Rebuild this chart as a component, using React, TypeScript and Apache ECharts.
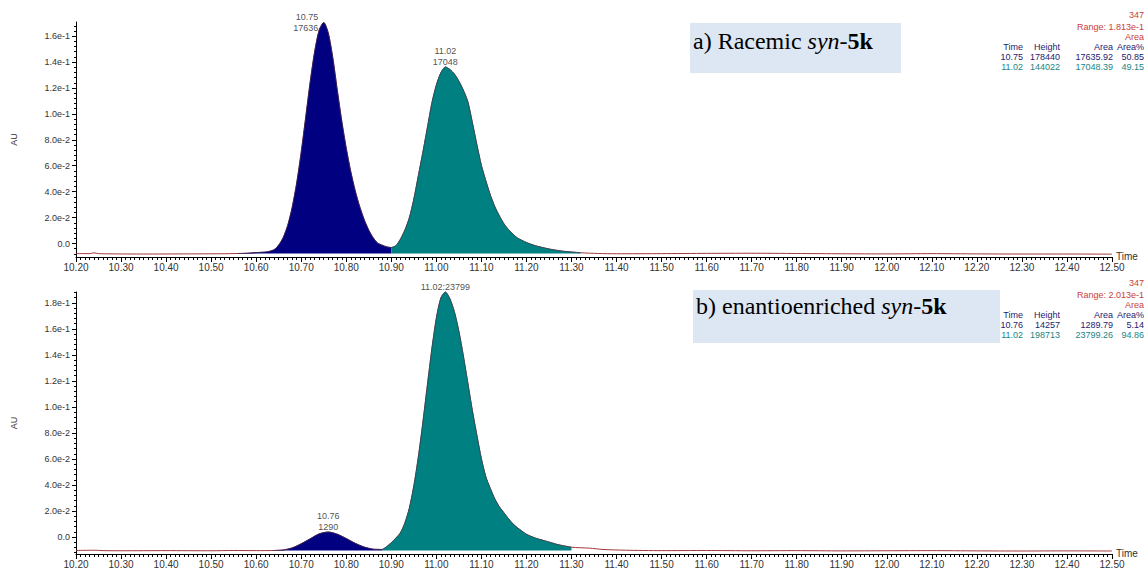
import React, { useEffect, useRef } from "react";
import * as echarts from "echarts";

// ---------------- data ----------------
const topTime = [10.2, 10.23, 10.24, 10.25, 10.28, 10.35, 10.45, 10.52, 10.56, 10.58, 10.6, 10.62, 10.63, 10.64, 10.65, 10.66, 10.67, 10.68, 10.69, 10.7, 10.71, 10.72, 10.73, 10.74, 10.75, 10.76, 10.77, 10.78, 10.79, 10.8, 10.81, 10.82, 10.83, 10.84, 10.85, 10.86, 10.87, 10.88, 10.89, 10.9, 10.91, 10.92, 10.93, 10.94, 10.95, 10.96, 10.97, 10.98, 10.99, 11.0, 11.01, 11.02, 11.03, 11.04, 11.05, 11.06, 11.07, 11.08, 11.09, 11.1, 11.11, 11.12, 11.13, 11.14, 11.15, 11.16, 11.17, 11.18, 11.2, 11.22, 11.25, 11.28, 11.32, 11.36, 11.4, 11.5, 11.6, 11.7, 11.8, 11.9, 12.0, 12.1, 12.2, 12.3, 12.4, 12.5];
const topSignal = [-0.0077, -0.0078, -0.0072, -0.0078, -0.008, -0.0081, -0.008, -0.0079, -0.0077, -0.0075, -0.007, -0.0066, -0.006, -0.0047, -0.0012, 0.0046, 0.014, 0.028, 0.0468, 0.0705, 0.0975, 0.1248, 0.1484, 0.1648, 0.1705, 0.1625, 0.1435, 0.1185, 0.0945, 0.0735, 0.0555, 0.0405, 0.0283, 0.0183, 0.0103, 0.0043, 0.0003, -0.0013, -0.0026, -0.0031, -0.0018, 0.0032, 0.0103, 0.0198, 0.0343, 0.0523, 0.0703, 0.0893, 0.1083, 0.1223, 0.1318, 0.1362, 0.1343, 0.1308, 0.1253, 0.1183, 0.1093, 0.0933, 0.0763, 0.0603, 0.0483, 0.0373, 0.0283, 0.0213, 0.0153, 0.0108, 0.0073, 0.0043, 0.0008, -0.0017, -0.0042, -0.0059, -0.0071, -0.0077, -0.0079, -0.0078, -0.0076, -0.0075, -0.0077, -0.0079, -0.008, -0.0078, -0.008, -0.0081, -0.0081, -0.0082];

const bottomTime = [10.2, 10.24, 10.26, 10.3, 10.4, 10.5, 10.55, 10.6, 10.64, 10.66, 10.68, 10.7, 10.72, 10.74, 10.76, 10.78, 10.8, 10.82, 10.84, 10.86, 10.88, 10.89, 10.9, 10.91, 10.92, 10.93, 10.94, 10.95, 10.96, 10.97, 10.98, 10.99, 11.0, 11.01, 11.02, 11.03, 11.04, 11.05, 11.06, 11.07, 11.08, 11.09, 11.1, 11.11, 11.12, 11.13, 11.14, 11.15, 11.16, 11.17, 11.18, 11.2, 11.22, 11.24, 11.27, 11.3, 11.34, 11.37, 11.42, 11.5, 11.6, 11.7, 11.8, 11.9, 12.0, 12.1, 12.2, 12.3, 12.4, 12.5];
const bottomSignal = [-0.0103, -0.0101, -0.0104, -0.0105, -0.0104, -0.0105, -0.0103, -0.0104, -0.0103, -0.0099, -0.0083, -0.0051, -0.0013, 0.0025, 0.0039, 0.0022, -0.0011, -0.0048, -0.0077, -0.0093, -0.0095, -0.0073, -0.0043, -0.0008, 0.0032, 0.0107, 0.0222, 0.0393, 0.0615, 0.0879, 0.1165, 0.1445, 0.1682, 0.1837, 0.1883, 0.1832, 0.1732, 0.1582, 0.1392, 0.1182, 0.0972, 0.0782, 0.0602, 0.0462, 0.0372, 0.0292, 0.0232, 0.0187, 0.0142, 0.0102, 0.0072, 0.0022, -0.0008, -0.0028, -0.0058, -0.0078, -0.0085, -0.0095, -0.0101, -0.0104, -0.0103, -0.0105, -0.0104, -0.0106, -0.0105, -0.0104, -0.0106, -0.0107, -0.0106, -0.0107];

const topBaseline = -0.0077;
const bottomBaseline = -0.0104;
const topNavyWindow = [10.56, 10.9];
const topTealWindow = [10.9, 11.32];
const bottomNavyWindow = [10.64, 10.88];
const bottomTealWindow = [10.88, 11.3];

const topPeakTimes = [10.75, 11.02];
const topPeakValues = [0.1705, 0.1362];
const topPeakTexts = ["10.75\n17636", "11.02\n17048"];
const bottomPeakTimes = [10.76, 11.02];
const bottomPeakValues = [0.0039, 0.1883];
const bottomPeakTexts = ["10.76\n1290", "11.02:23799"];

const topYTicks = [0, 0.02, 0.04, 0.06, 0.08, 0.1, 0.12, 0.14, 0.16];
const topYLabels = ["0.0", "2.0e-2", "4.0e-2", "6.0e-2", "8.0e-2", "1.0e-1", "1.2e-1", "1.4e-1", "1.6e-1"];
const bottomYTicks = [0, 0.02, 0.04, 0.06, 0.08, 0.1, 0.12, 0.14, 0.16, 0.18];
const bottomYLabels = ["0.0", "2.0e-2", "4.0e-2", "6.0e-2", "8.0e-2", "1.0e-1", "1.2e-1", "1.4e-1", "1.6e-1", "1.8e-1"];

const topRange = [-0.0104, 0.1709];
const bottomRange = [-0.013, 0.1883];

const tableHeader = ["Time", "Height", "Area", "Area%"];
const topRows = [
  ["10.75", "178440", "17635.92", "50.85"],
  ["11.02", "144022", "17048.39", "49.15"],
];
const bottomRows = [
  ["10.76", "14257", "1289.79", "5.14"],
  ["11.02", "198713", "23799.26", "94.86"],
];
const topRangeText = "Range: 1.813e-1";
const bottomRangeText = "Range: 2.013e-1";

// ---------------- styling ----------------
const NAVY = "#000080";
const TEAL = "#008080";
const TRACE = "#a3383c";
const RED_TXT = "#c8403c";
const NAVY_TXT = "#1c1c70";
const TEAL_TXT = "#1a8585";
const SANS = "Liberation Sans";

const zip = (t: number[], v: number[]) => t.map((x, i) => [x, v[i]]);
const windowed = (t: number[], v: number[], w: number[]) =>
  zip(t, v).filter((p) => p[0] >= w[0] - 1e-9 && p[0] <= w[1] + 1e-9);

function minorValues(range: number[]) {
  const out: number[] = [];
  for (let k = -5; k <= 60; k++) {
    if (k % 5 === 0) continue;
    const v = +(k * 0.004).toFixed(4);
    if (v >= range[0] && v <= range[1]) out.push(v);
  }
  return out;
}

function labelFor(ticks: number[], labels: string[]) {
  return (v: number) => {
    const i = ticks.findIndex((t) => Math.abs(t - v) < 1e-6);
    return i >= 0 ? labels[i] : "";
  };
}

function tableElements(yOff: number, rangeText: string, rows: string[][]) {
  const cols = [1023, 1060, 1113, 1144];
  const els: any[] = [];
  const txt = (x: number, y: number, text: string, fill: string) => ({
    type: "text",
    x,
    y: y + yOff,
    silent: true,
    style: {
      text,
      fill,
      fontSize: 9,
      fontFamily: SANS,
      align: "right",
      verticalAlign: "middle",
      textAlign: "right",
      textVerticalAlign: "middle",
    },
  });
  els.push(txt(1144, 15, "347", RED_TXT));
  els.push(txt(1144, 27, rangeText, RED_TXT));
  els.push(txt(1144, 37, "Area", RED_TXT));
  tableHeader.forEach((h, i) => els.push(txt(cols[i], 47, h, NAVY_TXT)));
  rows.forEach((r, ri) =>
    r.forEach((c, ci) => els.push(txt(cols[ci], 57 + ri * 10, c, ri === 0 ? NAVY_TXT : TEAL_TXT)))
  );
  return els;
}

function boxElements(x: number, y: number, w: number, h: number, tx: number, ty: number, lead: string) {
  const fs = 24;
  return [
    { type: "rect", shape: { x, y, width: w, height: h }, style: { fill: "#dde7f3" }, silent: true },
    {
      type: "text",
      x: tx,
      y: ty,
      silent: true,
      style: {
        text: `{r|${lead}}{i|syn}{r|-}{b|5k}`,
        fill: "#000",
        fontSize: fs,
        fontFamily: "Liberation Serif",
        verticalAlign: "middle",
        textVerticalAlign: "middle",
        rich: {
          r: { fontSize: fs, fontFamily: "Liberation Serif", fill: "#000" },
          i: { fontSize: fs, fontFamily: "Liberation Serif", fontStyle: "italic", fill: "#000" },
          b: { fontSize: fs, fontFamily: "Liberation Serif", fontWeight: "bold", fill: "#000" },
        },
      },
    },
  ];
}

function xAxisFor(gridIndex: number) {
  return {
    type: "value",
    gridIndex,
    min: 10.2,
    max: 12.5,
    interval: 0.1,
    name: "Time",
    nameLocation: "end",
    nameGap: 4,
    nameTextStyle: { fontSize: 10, color: "#333", fontFamily: SANS, verticalAlign: "bottom", padding: [0, 0, -4, 0] },
    axisLine: { show: true, onZero: false, lineStyle: { color: "#000", width: 1 } },
    axisTick: { show: true, length: 5, lineStyle: { color: "#000" } },
    minorTick: { show: true, splitNumber: 10, length: 3, lineStyle: { color: "#000" } },
    splitLine: { show: false },
    minorSplitLine: { show: false },
    axisLabel: {
      fontSize: 10,
      color: "#333",
      fontFamily: SANS,
      margin: 5,
      formatter: (v: number) => v.toFixed(2),
    },
  };
}

function yAxesFor(gridIndex: number, range: number[], ticks: number[], labels: string[]) {
  return [
    {
      type: "value",
      gridIndex,
      min: range[0],
      max: range[1],
      name: "AU",
      nameLocation: "middle",
      nameGap: 58,
      nameTextStyle: { fontSize: 9, color: "#333", fontFamily: SANS },
      axisLine: { show: true, onZero: false, lineStyle: { color: "#000", width: 1 } },
      axisTick: { show: true, length: 4, customValues: ticks, lineStyle: { color: "#000" } },
      splitLine: { show: false },
      axisLabel: {
        fontSize: 9,
        color: "#333",
        fontFamily: SANS,
        margin: 6,
        customValues: ticks,
        formatter: labelFor(ticks, labels),
      },
    },
    {
      type: "value",
      gridIndex,
      position: "left",
      min: range[0],
      max: range[1],
      axisLine: { show: false, onZero: false },
      axisTick: { show: true, length: 2, customValues: minorValues(range), lineStyle: { color: "#000" } },
      splitLine: { show: false },
      axisLabel: { show: false },
    },
  ];
}

function seriesFor(
  xi: number,
  yi: number,
  t: number[],
  v: number[],
  base: number,
  navyW: number[],
  tealW: number[],
  pt: number[],
  pv: number[],
  ptext: string[],
  firstPos: string
) {
  const common = {
    type: "line",
    xAxisIndex: xi,
    yAxisIndex: yi,
    showSymbol: false,
    smooth: 0.25,
    clip: false,
    silent: true,
  };
  return [
    { ...common, data: zip(t, v), lineStyle: { color: TRACE, width: 1 }, z: 2 },
    {
      ...common,
      data: windowed(t, v, navyW),
      lineStyle: { color: "#2a1f5a", width: 0.8 },
      areaStyle: { color: NAVY, opacity: 1, origin: base },
      z: 3,
    },
    {
      ...common,
      data: windowed(t, v, tealW),
      lineStyle: { color: "#1d4a58", width: 0.8 },
      areaStyle: { color: TEAL, opacity: 1, origin: base },
      z: 3,
    },
    {
      type: "scatter",
      xAxisIndex: xi,
      yAxisIndex: yi,
      symbolSize: 1,
      itemStyle: { color: "rgba(0,0,0,0)" },
      clip: false,
      z: 5,
      silent: true,
      data: pt.map((x, i) => ({
        value: [x, pv[i]],
        label: {
          show: true,
          position: i === 0 ? firstPos : "top",
          distance: i === 0 && firstPos === "left" ? 5 : -1,
          formatter: ptext[i],
          fontSize: 9,
          lineHeight: 11,
          color: "#222",
          fontFamily: SANS,
          align: i === 0 && firstPos === "left" ? "right" : "center",
        },
      })),
    },
  ];
}

export default function App() {
  const ref = useRef<HTMLDivElement>(null);
  useEffect(() => {
    if (!ref.current) return;
    const chart = echarts.init(ref.current, undefined, { renderer: "svg" });
    const option: any = {
      animation: false,
      backgroundColor: "#ffffff",
      grid: [
        { left: 76, right: 33, top: 22, height: 235 },
        { left: 76, right: 33, top: 292, height: 262 },
      ],
      xAxis: [xAxisFor(0), xAxisFor(1)],
      yAxis: [
        ...yAxesFor(0, topRange, topYTicks, topYLabels),
        ...yAxesFor(1, bottomRange, bottomYTicks, bottomYLabels),
      ],
      series: [
        ...seriesFor(0, 0, topTime, topSignal, topBaseline, topNavyWindow, topTealWindow, topPeakTimes, topPeakValues, topPeakTexts, "left"),
        ...seriesFor(1, 2, bottomTime, bottomSignal, bottomBaseline, bottomNavyWindow, bottomTealWindow, bottomPeakTimes, bottomPeakValues, bottomPeakTexts, "top"),
      ],
      graphic: [
        ...boxElements(690, 23, 211, 50, 693, 40.5, "a) Racemic "),
        ...boxElements(693, 290, 307, 53, 696, 305.5, "b) enantioenriched "),
        ...tableElements(0, topRangeText, topRows),
        ...tableElements(268, bottomRangeText, bottomRows),
      ],
    };
    chart.setOption(option);
    return () => chart.dispose();
  }, []);
  return (
    <div
      ref={ref}
      style={{ position: "absolute", left: 0, top: 0, width: 1145, height: 570, background: "#fff" }}
    />
  );
}
